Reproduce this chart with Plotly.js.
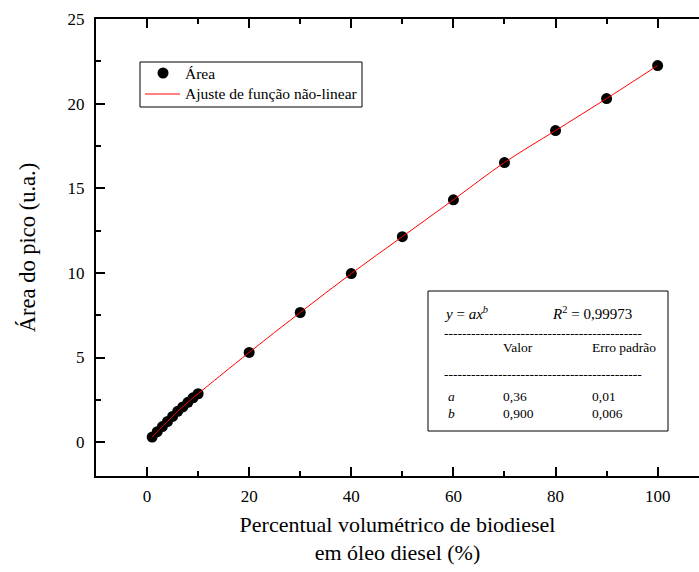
<!DOCTYPE html>
<html>
<head>
<meta charset="utf-8">
<script src="https://cdn.plot.ly/plotly-3.0.1.min.js"></script>
<style>
  html, body { margin: 0; padding: 0; background: #ffffff; }
  #chart { width: 699px; height: 572px; }
</style>
</head>
<body>
<div id="chart"></div>
<script>
// Biodiesel fraction (% v/v) in diesel oil
const biodieselPct = [1, 2, 3, 4, 5, 6, 7, 8, 9, 10, 20, 30, 40, 50, 60, 70, 80, 90, 100];
// Measured peak area (a.u.)
const peakArea = [0.30, 0.62, 0.92, 1.22, 1.52, 1.82, 2.08, 2.35, 2.62, 2.86,
                  5.30, 7.66, 9.96, 12.14, 14.32, 16.52, 18.41, 20.30, 22.25];

// Non-linear fit curve y = a·x^b, sampled along the drawn line
const fitX = [1, 2, 4, 6, 8, 10, 20, 30, 40, 50, 60, 70, 80, 90, 100];
const fitY = [0.30, 0.62, 1.22, 1.82, 2.35, 2.86, 5.30, 7.66, 9.96, 12.14, 14.32, 16.52, 18.41, 20.30, 22.25];

// Fit summary table
const fitModel = '<i>y</i> = <i>ax</i><sup><i>b</i></sup>';
const fitR2 = '<i>R</i><sup>2</sup> = 0,99973';
const tableHeader = ['Valor', 'Erro padrão'];
const paramNames = ['a', 'b'];
const paramValues = ['0,36', '0,900'];
const paramErrors = ['0,01', '0,006'];

const legendNames = ['Área', 'Ajuste de função não-linear'];
const xTitle = 'Percentual volumétrico de biodiesel<br>em óleo diesel (%)';
const yTitle = 'Área do pico (u.a.)';

const SERIF = 'Liberation Serif, Times New Roman, serif';
const BLACK = '#000000';
const RED = '#ff0000';

// plot area in pixels: left 96, right 699, top 19, bottom 476
const L = 96, R = 699, T = 19, B = 476;
const px = v => (v - L) / (R - L);
const py = v => (B - v) / (B - T);

const traces = [
  {
    x: biodieselPct, y: peakArea,
    type: 'scatter', mode: 'markers', name: legendNames[0],
    marker: { color: BLACK, size: 11, line: { width: 0 } }
  },
  {
    x: fitX, y: fitY,
    type: 'scatter', mode: 'lines', name: legendNames[1],
    line: { color: RED, width: 1, shape: 'spline' }
  },
  {
    // carries the top mirror axis
    x: [0], y: [0], xaxis: 'x2', type: 'scatter', mode: 'markers',
    marker: { opacity: 0 }, hoverinfo: 'skip'
  }
];

const dash = '-'.repeat(44);
const ann = (text, x, y, size) => ({
  text: text, xref: 'paper', yref: 'paper', x: px(x), y: py(y),
  xanchor: 'left', yanchor: 'middle', showarrow: false,
  font: { family: SERIF, size: size || 13.5, color: BLACK }
});

const annotations = [
  // legend entries
  ann(legendNames[0], 183, 73, 15.5),
  ann(legendNames[1], 183, 94, 15.5),
  // fit table
  ann(fitModel, 442, 313, 15),
  ann(fitR2, 550, 313, 15),
  ann(dash, 442, 333),
  ann(tableHeader[0], 501, 347),
  ann(tableHeader[1], 590, 347),
  ann(dash, 442, 374),
  ann('<i>' + paramNames[0] + '</i>', 446, 396),
  ann(paramValues[0], 501, 396),
  ann(paramErrors[0], 590, 396),
  ann('<i>' + paramNames[1] + '</i>', 446, 413),
  ann(paramValues[1], 501, 413),
  ann(paramErrors[1], 590, 413)
];

const paperShape = (o) => Object.assign({ xref: 'paper', yref: 'paper' }, o);
const shapes = [
  // legend frame and keys
  paperShape({ type: 'rect', x0: px(140), x1: px(362), y0: py(107), y1: py(62),
               line: { color: BLACK, width: 1 }, fillcolor: '#ffffff' }),
  paperShape({ type: 'circle', x0: px(157.5), x1: px(168.5), y0: py(78.5), y1: py(67.5),
               line: { width: 0 }, fillcolor: BLACK }),
  paperShape({ type: 'line', x0: px(145), x1: px(180), y0: py(94), y1: py(94),
               line: { color: RED, width: 1 } }),
  // fit table frame
  paperShape({ type: 'rect', x0: px(428), x1: px(668), y0: py(431), y1: py(291),
               line: { color: BLACK, width: 1 }, fillcolor: 'rgba(0,0,0,0)' })
];

const xCommon = {
  range: [-10, 108.1], tick0: 0, dtick: 20,
  ticks: 'inside', ticklen: 9, tickwidth: 2, tickcolor: BLACK,
  minor: { dtick: 10, tick0: 0, ticks: 'inside', ticklen: 5, tickwidth: 2, tickcolor: BLACK },
  showline: true, linecolor: BLACK, linewidth: 2,
  showgrid: false, zeroline: false
};

const layout = {
  width: 699, height: 572,
  margin: { l: L, r: 0, t: T, b: 572 - B },
  paper_bgcolor: '#ffffff', plot_bgcolor: '#ffffff',
  font: { family: SERIF, color: BLACK },
  showlegend: false,
  xaxis: Object.assign({}, xCommon, {
    side: 'bottom',
    tickfont: { family: SERIF, size: 17, color: BLACK },
    ticklabelstandoff: 4,
    title: { text: xTitle, font: { family: SERIF, size: 22, color: BLACK }, standoff: 11 }
  }),
  xaxis2: Object.assign({}, xCommon, {
    overlaying: 'x', side: 'top', anchor: 'y', showticklabels: false
  }),
  yaxis: {
    range: [-2, 25], tick0: 0, dtick: 5,
    ticks: 'inside', ticklen: 9, tickwidth: 2, tickcolor: BLACK,
    minor: { dtick: 2.5, tick0: 0, ticks: 'inside', ticklen: 5, tickwidth: 2, tickcolor: BLACK },
    showline: true, linecolor: BLACK, linewidth: 2,
    showgrid: false, zeroline: false,
    tickfont: { family: SERIF, size: 17, color: BLACK },
    ticklabelstandoff: 6,
    title: { text: yTitle, font: { family: SERIF, size: 22.5, color: BLACK }, standoff: 26 }
  },
  shapes: shapes,
  annotations: annotations
};

Plotly.newPlot('chart', traces, layout, { displayModeBar: false, staticPlot: true });
</script>
</body>
</html>
